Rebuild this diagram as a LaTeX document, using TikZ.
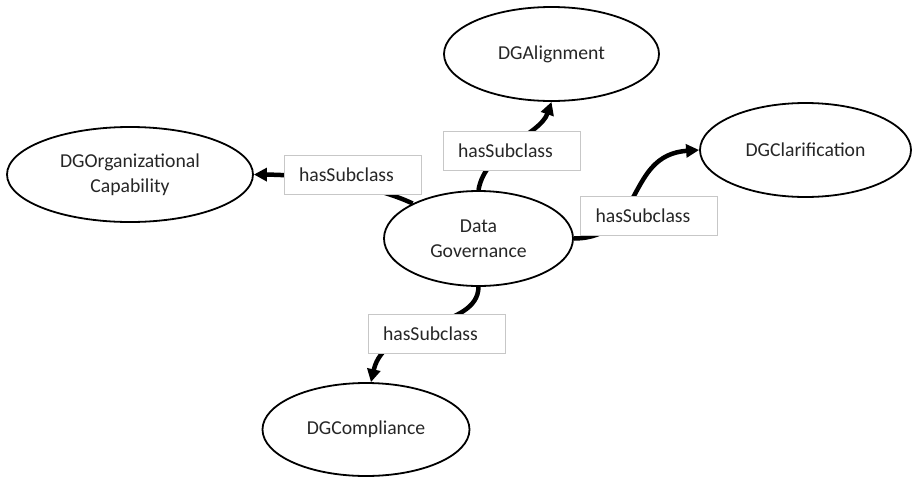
\documentclass[tikz,border=0pt]{standalone}
\usepackage{fontspec}
\setmainfont{Carlito}
\usetikzlibrary{shapes.geometric,arrows.meta}
\begin{document}
\begin{tikzpicture}[x=1pt,y=-1pt,
  font=\fontsize{19.7}{24.5}\selectfont,
  cls/.style={ellipse,draw=black,line width=1.8pt,fill=white,inner sep=0pt,align=center,text=black!85},
  rel/.style={line width=4.5pt,-{Triangle[length=13pt,width=13pt]}},
  lbl/.style={rectangle,draw=black!22,line width=1pt,fill=white,minimum height=39pt,
    text width=107pt,inner xsep=15pt,inner ysep=0pt,align=left,text=black!85}]
\useasboundingbox (0,0) rectangle (913,477);
% classes
\node[cls,minimum width=189pt,minimum height=95pt] (dg) at (478.5,238.5) {Data\\Governance};
\node[cls,minimum width=215pt,minimum height=94pt] (ali) at (551.5,54) {DGAlignment};
\node[cls,minimum width=246pt,minimum height=95pt] (org) at (130,174.5) {DGOrganizational\\Capability};
\node[cls,minimum width=211pt,minimum height=94pt] (clar) at (805.5,150) {DGClarification};
\node[cls,minimum width=207pt,minimum height=93pt] (comp) at (366,429.5) {DGCompliance};
% connectors
\draw[rel] (dg.152) .. controls (380,188) and (320,175) .. (org.east);
\draw[rel] (dg.north) .. controls (485,150) and (540,135) .. (ali.south);
\draw[rel] (dg.east) .. controls (645,238) and (625,155) .. (clar.west);
\draw[rel] (dg.south) .. controls (478,330) and (385,320) .. (comp.84);
% relation labels
\node[lbl] (l1) at (352.5,174.5) {hasSubclass};
\node[lbl] (l2) at (511.5,150.5) {hasSubclass};
\node[lbl] (l3) at (649,215.5) {hasSubclass};
\node[lbl] (l4) at (436.5,334) {hasSubclass};
\end{tikzpicture}
\end{document}
